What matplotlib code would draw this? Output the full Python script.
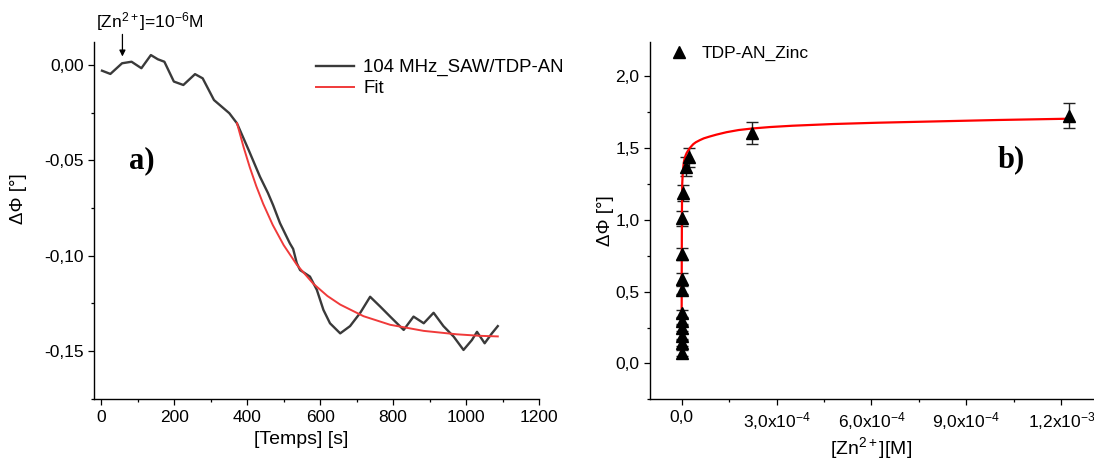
import numpy as np
import matplotlib.pyplot as plt
from matplotlib.ticker import MultipleLocator

plt.rcParams['font.family'] = ['Liberation Sans', 'DejaVu Sans']
plt.rcParams['mathtext.fontset'] = 'custom'
plt.rcParams['mathtext.rm'] = 'Liberation Sans'
plt.rcParams['mathtext.it'] = 'Liberation Sans:italic'
plt.rcParams['mathtext.bf'] = 'Liberation Sans:bold'

# panel a) : phase shift vs time (read off the picture)
temps = [2, 25, 57, 83, 110, 136, 155, 173, 199, 225, 257, 278, 309, 351, 372,
         404, 435, 457, 471, 490, 517, 526, 536, 545, 572, 591, 609, 627, 655,
         682, 710, 737, 765, 792, 829, 856, 884, 911, 938, 966, 993, 1016, 1030,
         1051, 1070, 1087]
dphi = [-0.003, -0.0047, 0.0009, 0.0017, -0.0017, 0.0052, 0.003, 0.0017, -0.0087,
        -0.0105, -0.0048, -0.007, -0.0184, -0.0253, -0.0306, -0.0446, -0.0586,
        -0.0672, -0.0735, -0.083, -0.0936, -0.0965, -0.104, -0.1076, -0.111,
        -0.118, -0.1285, -0.1355, -0.1408, -0.137, -0.130, -0.1216, -0.1268,
        -0.132, -0.139, -0.132, -0.1355, -0.130, -0.137, -0.1425, -0.1495,
        -0.1443, -0.140, -0.146, -0.141, -0.137]

fit_t = [372, 390, 407, 425, 444, 470, 500, 536, 581, 620, 655, 719, 792, 884, 975, 1039, 1087]
fit_a = [-0.0305, -0.0430, -0.0536, -0.0636, -0.0729, -0.0839, -0.0945, -0.1048, -0.1147,
         -0.1212, -0.1257, -0.1318, -0.1363, -0.1395, -0.1413, -0.1421, -0.1424]

# panel b) : titration
zinc = [0, 0, 0, 0, 0, 0, 0, 0, 0, 1e-6, 3e-6, 1.4e-5, 2.4e-5, 2.24e-4, 1.224e-3]
dphi_b = [0.075, 0.142, 0.19, 0.249, 0.297, 0.349, 0.51, 0.588, 0.761, 1.01,
          1.187, 1.37, 1.436, 1.604, 1.725]
err_b = [0.02, 0.02, 0.02, 0.02, 0.02, 0.025, 0.03, 0.04, 0.04, 0.05, 0.058,
         0.065, 0.065, 0.078, 0.085]

fit_x = [0, 5e-7, 1e-6, 2e-6, 4e-6, 7e-6, 1e-5, 1.3e-5, 1.6e-5, 2e-5, 2.6e-5, 3.2e-5,
         3.7e-5, 4.5e-5, 5.8e-5, 7e-5, 8.9e-5, 1.1e-4, 1.42e-4, 1.8e-4, 2.24e-4,
         2.8e-4, 3.5e-4, 4.8e-4, 6.2e-4, 8e-4, 1.0e-3, 1.226e-3]
fit_y = [0.07, 0.7, 1.05, 1.25, 1.34, 1.40, 1.43, 1.45, 1.465, 1.48, 1.50, 1.515,
         1.527, 1.54, 1.555, 1.567, 1.58, 1.593, 1.61, 1.625, 1.636, 1.646, 1.655,
         1.667, 1.676, 1.685, 1.695, 1.704]

ticks_a = [-0.15, -0.10, -0.05, 0.0]
labels_a = ['-0,15', '-0,10', '-0,05', '0,00']
ticks_bx = [0, 3e-4, 6e-4, 9e-4, 1.2e-3]
labels_bx = ['0,0', r'3,0x10$^{\mathregular{-4}}$', r'6,0x10$^{\mathregular{-4}}$',
             r'9,0x10$^{\mathregular{-4}}$', r'1,2x10$^{\mathregular{-3}}$']
ticks_by = [0, 0.5, 1.0, 1.5, 2.0]
labels_by = ['0,0', '0,5', '1,0', '1,5', '2,0']

fig = plt.figure(figsize=(10.94, 4.61), dpi=100)
ax1 = fig.add_axes([0.0859, 0.1338, 0.4068, 0.7757])
ax2 = fig.add_axes([0.5941, 0.1338, 0.4050, 0.7757])

for ax in (ax1, ax2):
    ax.spines['top'].set_visible(False)
    ax.spines['right'].set_visible(False)
    for s in ('left', 'bottom'):
        ax.spines[s].set_linewidth(1.0)
    ax.tick_params(which='major', direction='out', length=4, width=0.9, labelsize=12.5, pad=3.5)
    ax.tick_params(which='minor', direction='out', length=2.5, width=0.9)

# ---- a)
ax1.plot(temps, dphi, color='#3a3a3a', lw=1.7, label='104 MHz_SAW/TDP-AN')
ax1.plot(fit_t, fit_a, color='#f03a3a', lw=1.4, label='Fit')
ax1.set_xlim(-20, 1200)
ax1.set_ylim(-0.1754, 0.0122)
ax1.xaxis.set_major_locator(MultipleLocator(200))
ax1.xaxis.set_minor_locator(MultipleLocator(100))
ax1.set_yticks(ticks_a)
ax1.set_yticklabels(labels_a)
ax1.yaxis.set_minor_locator(MultipleLocator(0.025))
ax1.set_xlabel('[Temps] [s]', fontsize=14)
ax1.xaxis.set_label_coords(0.465, -0.088)
ax1.set_ylabel('ΔΦ [°]', fontsize=13.5)
ax1.yaxis.set_label_coords(-0.15, 0.56)
ax1.legend(loc='center left', bbox_to_anchor=(0.50, 0.898), frameon=False, fontsize=13.4,
           handlelength=2.0, handletextpad=0.5, labelspacing=0.22, borderpad=0, borderaxespad=0)
ax1.text(110, -0.05, 'a)', fontsize=22, fontweight='bold', family='Liberation Serif',
         ha='center', va='center')
ax1.annotate('', xy=(58, 0.003), xytext=(58, 0.0175),
             arrowprops=dict(arrowstyle='-|>', color='k', lw=0.9, mutation_scale=9),
             annotation_clip=False)
ax1.text(133, 0.0226, r'[Zn$^{\mathregular{2+}}$]=10$^{\mathregular{-6}}$M', fontsize=12.5,
         ha='center', va='center', clip_on=False)

# ---- b)
ax2.plot(fit_x, fit_y, color='red', lw=1.6, zorder=2)
ax2.errorbar(zinc, dphi_b, yerr=err_b, fmt='none', ecolor='#222222', elinewidth=1.0,
             capsize=4, capthick=1.0, zorder=1)
ax2.plot(zinc, dphi_b, '^', color='k', markersize=8, ls='none', zorder=3, label='TDP-AN_Zinc')
ax2.set_xlim(-1.0e-4, 1.3e-3)
ax2.set_ylim(-0.25, 2.24)
ax2.set_xticks(ticks_bx)
ax2.set_xticklabels(labels_bx)
ax2.xaxis.set_minor_locator(MultipleLocator(1.5e-4))
ax2.set_yticks(ticks_by)
ax2.set_yticklabels(labels_by)
ax2.yaxis.set_minor_locator(MultipleLocator(0.25))
ax2.set_xlabel(r'[Zn$^{\mathregular{2+}}$][M]', fontsize=14)
ax2.xaxis.set_label_coords(0.5, -0.1)
ax2.set_ylabel('ΔΦ [°]', fontsize=13.5)
ax2.yaxis.set_label_coords(-0.08, 0.5)
ax2.legend(loc='center left', bbox_to_anchor=(0.045, 0.968), frameon=False, fontsize=12.5,
           handlelength=1.0, handletextpad=0.8, borderpad=0, borderaxespad=0)
ax2.text(1.04e-3, 1.42, 'b)', fontsize=22, fontweight='bold', family='Liberation Serif',
         ha='center', va='center')

fig.savefig('out.png', dpi=100)
